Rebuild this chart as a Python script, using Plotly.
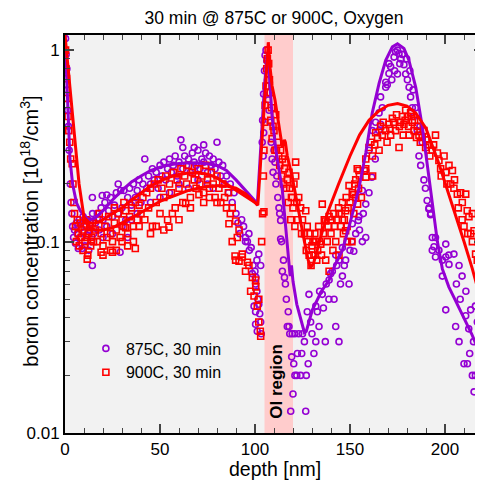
import plotly.graph_objects as go
import math

# ---------------- data ----------------
purple_points = [
    (0.3,1.15),(0.6,0.95),(1.0,0.8),(1.2,0.62),(1.4,0.485),(1.8,0.4),(2.2,0.3),(2.8,0.2),(3.2,0.16),(3.6,0.14),
    (4,0.12),(4.5,0.105),(5,0.115),(5.5,0.098),(6,0.125),(6.5,0.11),(7,0.092),(7.5,0.13),(8,0.105),(8.5,0.118),
    (9,0.092),(9.5,0.135),(10,0.112),(10.5,0.095),(11,0.12),(11.5,0.108),(12,0.13),(12.5,0.09),(13,0.115),(13.5,0.125),
    (14,0.1),(14.4,0.075),(14.5,0.14),(15,0.11),(14.4,0.17),
    (16,0.125),(17,0.14),(18,0.115),(19,0.15),(19.6,0.174),(20,0.13),(20,0.105),(21,0.16),(22,0.12),(22,0.175),
    (23,0.145),(24,0.17),(25,0.135),(25,0.11),(26,0.155),(27,0.18),(28,0.14),(28,0.2),(29,0.088),(29.3,0.185),
    (30,0.15),(30,0.12),(31,0.185),(32,0.13),(33,0.17),(33,0.105),(34,0.19),(35,0.155),(35,0.13),(36,0.2),
    (37,0.17),(38,0.185),(38,0.14),(39,0.21),(40,0.16),
    (41,0.2),(42,0.27),(43,0.19),(44,0.22),(45,0.2),(45,0.16),(46,0.24),(47,0.21),(48,0.23),(49,0.19),
    (50,0.25),(50,0.17),(51,0.22),(52,0.26),(53,0.21),(54,0.24),(55,0.27),(55,0.18),(56,0.23),(57,0.25),
    (58,0.28),(59,0.22),(60,0.26),(60,0.2),(61,0.34),(62,0.24),(62,0.31),(63,0.28),(64,0.25),(65,0.27),
    (65,0.19),(66,0.23),(67,0.29),(68,0.26),(68,0.31),(69,0.25),(70,0.3),(70,0.21),(71,0.24),(72,0.27),
    (73,0.26),(73,0.32),(74,0.29),(75,0.23),(75,0.2),(76,0.28),(77,0.25),(78,0.27),(78,0.19),(79,0.24),
    (80,0.33),(81,0.26),(82,0.22),(83,0.25),(84,0.2),(85,0.22),(86,0.18),(87,0.2),(88,0.16),(89,0.18),(90,0.14),
    (91,0.125),(92,0.11),(93,0.13),(94,0.12),(95,0.105),(95,0.1),(96,0.1),(96.8,0.11),(97,0.09),(98,0.093),
    (98.6,0.068),(99,0.075),(99.5,0.046),(100,0.07),(100.3,0.06),(100.3,0.043),(100.5,0.065),(101,0.055),(101,0.08),
    (101.2,0.034),(101.5,0.05),(102,0.047),(102,0.086),(102.5,0.042),(103,0.038),(103,0.075),(103.3,0.033),(100.3,0.037),
    (103.8,0.33),(104,0.43),(104.3,0.28),(104.5,0.59),(104.6,0.37),(105,0.78),(105.3,0.94),(105.8,1.0),(106.2,0.88),
    (106.6,0.7),(107,0.55),(107.4,0.485),
    (108,0.42),(108.5,0.33),(109,0.27),(109.5,0.23),(110,0.3),(110.5,0.26),(111,0.2),(111.5,0.22),(112,0.17),
    (112.6,0.15),(113,0.14),(113.5,0.129),(113.5,0.103),(114,0.1),(114.4,0.07),(115,0.08),(115.5,0.065),(116,0.06),
    (116.5,0.05),(117,0.036),(117.5,0.043),(117.9,0.036),(118.3,0.033),(118.8,0.013),(119.3,0.025),(119.6,0.033),
    (120,0.016),(120.4,0.023),(121,0.033),
    (121,0.02),(122,0.02),(122.3,0.026),(123,0.033),(124,0.02),(124.6,0.026),(125,0.033),(126,0.03),(126.7,0.013),
    (127,0.02),(127.5,0.043),(128,0.023),(128.4,0.053),(129.3,0.038),(130,0.033),(131,0.026),(132,0.03),(132,0.046),
    (132.8,0.043),(133.7,0.036),(134,0.055),(135.4,0.053),(136,0.045),(137,0.03),(137.5,0.06),(138.9,0.05),(139,0.063),
    (139.8,0.068),(140.7,0.07),(141.6,0.05),(142.5,0.036),(142.5,0.085),(143,0.075),(144.2,0.03),(144.2,0.08),(145,0.06),
    (146,0.066),(146,0.093),(147,0.075),(147.7,0.08),(148.6,0.1),(149.5,0.06),(150,0.09),(151,0.1),(151.2,0.124),
    (152,0.089),(153,0.11),(154.4,0.129),(154.7,0.135),(155,0.115),(156.5,0.1),(156.5,0.185),(157,0.14),(158.3,0.105),
    (158.3,0.157),(158.3,0.235),
    (160,0.18),(160,0.3),(161.5,0.217),(161.8,0.38),(163.3,0.27),(163.5,0.42),(165.3,0.38),(165.3,0.47),(166.1,0.41),
    (166.1,0.57),(167,0.5),(168.8,0.64),(168.8,0.68),(169.6,0.66),(170.5,0.755),(170.5,0.85),(171.4,0.82),(172,0.7),
    (173.2,0.92),(173.5,0.78),(174,0.98),(175,1.0),(175,0.75),(175.8,0.96),(176.2,0.85),(176.7,0.9),(177.5,0.95),
    (178.4,0.84),(179.3,0.75),(179.8,0.9),(180.2,0.7),(181.1,0.64),(181.5,0.78),(181.9,0.57),(182.8,0.5),(183.2,0.62),
    (183.7,0.45),(184.5,0.5),(185.4,0.38),(186.3,0.28),(186.8,0.4),(187.2,0.25),(188,0.33),(188.9,0.21),(189.7,0.19),
    (190.6,0.164),(191.5,0.148),(191.6,0.15),(192.4,0.138),(192.5,0.14),(193.3,0.105),(193.3,0.09),(194.2,0.094),
    (195,0.083),(195,0.105),(196.8,0.09),(198.6,0.08),(198.6,0.066),(200.4,0.083),
    (200.4,0.097),(200.4,0.044),(202,0.085),(202.1,0.076),(204.7,0.086),(205.6,0.036),(206,0.06),(207.4,0.075),
    (207.4,0.03),(208,0.05),(209,0.066),(210,0.023),(210.9,0.041),(211,0.055),(211.8,0.023),(212.5,0.035),(213,0.026),
    (213.5,0.044),(214.4,0.02),(215,0.03),(215.3,0.0164),(216,0.02),(216,0.046),(217,0.038),(218,0.028),(219,0.03),
    (219.5,0.022),
]

red_points = [
    (0.3,1.0),(0.5,0.8),(0.8,0.71),(1.2,0.56),(1.6,0.45),(2.0,0.38),(2.5,0.33),(3.0,0.27),(3.8,0.255),(4.2,0.2),
    (4.7,0.16),(5,0.14),
    (5.5,0.12),(6,0.1),(6.5,0.13),(7,0.11),(7.5,0.095),(8,0.125),(8.5,0.105),(9,0.115),(9.5,0.09),(10,0.12),
    (10.5,0.1),(11,0.13),(11.5,0.105),(11.7,0.081),(12,0.085),(12.5,0.11),(13,0.12),(13.5,0.095),(14,0.105),
    (14.5,0.125),(15,0.1),
    (16,0.115),(17,0.1),(18,0.13),(18,0.14),(19,0.11),(19,0.088),(20,0.095),(20,0.085),(21,0.12),(22,0.105),
    (23,0.135),(24,0.11),(24,0.09),(25,0.1),(25,0.088),(26,0.125),(26,0.15),(27,0.115),(27,0.09),(28,0.14),
    (29,0.105),(30,0.13),(30,0.1),(31,0.12),(31,0.16),(32,0.145),(32,0.118),(33,0.11),(33,0.095),(34,0.135),
    (35,0.15),(36,0.12),(36,0.1),(37,0.16),(37,0.092),(38,0.13),(39,0.155),(39,0.12),(40,0.14),
    (41,0.17),(42,0.13),(43,0.18),(44,0.15),(45,0.19),(45,0.11),(46,0.12),(47,0.2),(48,0.16),(48,0.12),
    (49,0.21),(50,0.14),(51,0.19),(52,0.17),(52,0.115),(53,0.22),(54,0.13),(54.7,0.119),(55,0.2),(56,0.18),
    (56.5,0.14),(57,0.23),(58,0.15),(59,0.21),(60,0.19),(60,0.13),(61,0.24),(62,0.16),(63,0.22),(63.5,0.158),
    (64,0.2),(65,0.25),(66,0.17),(66,0.15),(67,0.23),(68,0.21),(69,0.19),(70,0.24),(70.5,0.176),(71,0.2),
    (72,0.22),(73,0.18),(73,0.16),(74,0.25),(75,0.21),(76,0.19),(76,0.17),(77,0.23),(78,0.2),(79,0.17),
    (80,0.22),(80,0.16),(81,0.19),(82,0.16),(83,0.2),(84,0.17),(85,0.15),(86,0.18),(86.3,0.124),(87,0.14),
    (88,0.15),(88,0.1),
    (89.5,0.084),(89.8,0.128),(89.8,0.08),(90.7,0.105),(91.6,0.115),(91.6,0.079),(93.3,0.086),(93.3,0.083),
    (95,0.07),(96,0.078),(96.8,0.075),(97.7,0.055),(98.6,0.065),(99.5,0.052),(100.3,0.063),(100.4,0.058),
    (101.2,0.046),(102,0.05),(102,0.038),(102.8,0.034),(103,0.032),
    (103.5,0.1),(104,0.14),(104.4,0.22),(104.7,0.3),(104.7,0.143),(105,0.42),(105.3,0.515),(105.8,0.65),
    (106.2,0.8),(106.5,0.9),(106.9,1.0),(107.2,0.85),(107.6,0.7),(108,0.6),
    (108.3,0.43),(108.7,0.5),(109,0.345),(109.5,0.4),(110,0.38),(110.5,0.3),(110.9,0.46),(111.3,0.3),(112,0.33),
    (112.5,0.28),(113,0.25),(113.5,0.3),(114,0.22),(114.4,0.27),(115,0.2),(115.5,0.24),(116,0.26),(116.5,0.19),
    (117,0.21),(117.5,0.16),(117.9,0.23),(118.3,0.19),(118.8,0.13),(119.2,0.17),(119.6,0.17),(120,0.15),(120.5,0.2),
    (121,0.12),(121.4,0.26),(121.4,0.22),(122,0.16),(122.5,0.13),(123,0.17),(124,0.15),(124.5,0.11),(125,0.13),
    (126,0.11),(126.7,0.145),(127,0.09),(127.5,0.12),(128,0.1),(128.5,0.085),(129,0.11),(129.5,0.075),(130,0.095),
    (130.5,0.1),(131,0.085),(131.5,0.11),(132,0.1),(132.5,0.08),(133,0.09),(133.5,0.12),(134,0.1),(134.6,0.097),
    (135,0.085),(135.4,0.157),(136,0.11),(136.5,0.13),(137.2,0.128),(137.2,0.08),(138,0.1),(138.5,0.12),(139,0.135),
    (139,0.07),(140,0.11),(140.5,0.13),(141,0.09),(141.5,0.14),(142,0.12),(142.5,0.1),(143,0.13),(144,0.15),
    (144.2,0.085),(145,0.12),(145.5,0.14),(146,0.16),(146.5,0.11),(147,0.13),(147.7,0.145),(148,0.17),(148.5,0.12),
    (149,0.15),(149.5,0.196),(150,0.16),(151,0.1),(151.2,0.18),(152,0.14),(152.5,0.2),(153,0.17),(153.8,0.24),
    (154.5,0.19),(155,0.22),(156,0.17),
    (144.2,0.14),(146,0.13),(147.7,0.114),(148.6,0.1),(154,0.157),(152,0.176),(153,0.21),(154.7,0.235),
    (157.5,0.235),(158.3,0.27),(158.3,0.217),(158.3,0.24),(160,0.31),(161,0.33),(161.8,0.28),(161.9,0.22),
    (163.5,0.37),(165.3,0.3),(166.1,0.4),(167,0.36),(168.8,0.38),(170.5,0.41),(171.4,0.36),(172.3,0.44),(174,0.38),
    (175.8,0.31),(176.7,0.42),(177.6,0.45),(178.4,0.41),(179.3,0.485),(180.2,0.45),(181.1,0.36),(181.9,0.47),
    (182.8,0.42),(183.7,0.38),(185.4,0.4),(186.3,0.36),(188,0.35),(188.9,0.38),(189.8,0.31),(191.6,0.32),(193.3,0.3),
    (195,0.36),(196,0.29),(196.8,0.265),(197.7,0.24),(199.5,0.28),(200.4,0.23),(202.1,0.25),(203,0.2),(203.9,0.235),
    (204.7,0.19),(206.5,0.177),(208.2,0.18),(209.1,0.16),(210,0.12),(210.9,0.177),(211.7,0.145),(212.6,0.135),
    (213.5,0.11),(214.4,0.14),(214.4,0.1),(215.3,0.114),(216.1,0.086),(217,0.08),(218.8,0.07),(219.5,0.055),
    (217.5,0.1),(219,0.12),
    (163,0.32),(164.5,0.35),(167.5,0.42),(169.5,0.33),(171,0.39),(173,0.42),(174.5,0.46),(176,0.4),(178,0.36),
    (179,0.43),(180.8,0.4),(182.5,0.45),(184,0.43),(185,0.35),(187,0.33),(190,0.34),(192,0.28),(194,0.32),
    (198,0.22),(201,0.2),(205,0.21),(207,0.15),(209,0.13),(212,0.11),
]

purple_fit_depth = [0,1,2,2.6,4,6,8,10,12.6,16,20,25,30,35,40,45,50,55,60,65,70,75,80,85,90,95,100,101.2,
                    103,105,106.5,107.5,109,111,114.4,117,118.5,119.2,120,122,124,126,127,130.2,135,139,142,146,
                    150,154.7,158.3,161.7,165.3,168.8,172.3,175,178.4,181,184.6,188,190.6,193.3,196,198.6,
                    202,205.6,210,214,217,220]
purple_fit_conc = [1.2,0.7,0.4,0.27,0.2,0.16,0.145,0.137,0.13,0.133,0.145,0.165,0.185,0.205,0.22,0.235,0.245,
                   0.252,0.256,0.258,0.257,0.255,0.25,0.235,0.21,0.185,0.163,0.155,
                   0.3,0.65,0.97,0.75,0.45,0.3,0.185,0.09,0.066,0.075,0.062,0.047,0.04,0.0335,0.034,0.044,
                   0.055,0.063,0.075,0.09,0.125,0.19,0.29,0.47,0.67,0.886,1.04,1.08,1.02,0.886,0.64,0.4,
                   0.255,0.157,0.1,0.072,0.058,0.049,0.04,0.033,0.028,0.024]

red_fit_depth = [0,2,4.7,7.4,10,13,16,20,25,30,35,40,45,50,55,60,65,70,75,80,85,90,95,100,101.5,
                 104,106,107,108,109,110.5,111.7,113,114.4,115.5,116,117,119.6,122,124,126,128,129.3,131,
                 134,138,144,150,155,160,165,170,175,180,184.6,190,196.8,201,205.6,210,214.4,218,220]
red_fit_conc = [1.2,0.72,0.38,0.2,0.134,0.125,0.125,0.13,0.14,0.15,0.165,0.18,0.195,0.207,0.217,0.224,0.228,
                0.228,0.225,0.215,0.2,0.185,0.172,0.16,0.155,
                0.4,0.85,1.1,0.8,0.65,0.55,0.45,0.38,0.31,0.34,0.33,0.28,0.217,0.16,0.129,0.1,0.08,0.073,0.078,
                0.1,0.14,0.2,0.28,0.36,0.43,0.48,0.515,0.526,0.51,0.47,0.39,0.255,0.19,0.14,0.1,0.072,0.052,0.045]

red_fit2_depth = [10,13,16,20,25,30,35,40,45,50,55,60,65,70,75,80,85,90,95,100,101.5]
red_fit2_conc = [0.13,0.118,0.115,0.115,0.118,0.125,0.133,0.142,0.152,0.162,0.17,0.178,0.185,0.19,0.194,
                 0.196,0.195,0.19,0.178,0.16,0.155]

oi_region = (105, 120)
x_ticks = [0, 50, 100, 150, 200]
y_ticks = [0.01, 0.1, 1]
y_ticklabels = ["0.01", "0.1", "1"]

PURPLE = "#9400D3"
RED = "#FF0000"
FONT = "Liberation Sans, Arial, sans-serif"

fig = go.Figure()
fig.add_trace(go.Scatter(
    x=[p[0] for p in purple_points], y=[p[1] for p in purple_points], mode="markers",
    name="875C, 30 min",
    marker=dict(symbol="circle-open", size=6, color=PURPLE, line=dict(width=1.6, color=PURPLE))))
fig.add_trace(go.Scatter(
    x=[p[0] for p in red_points], y=[p[1] for p in red_points], mode="markers",
    name="900C, 30 min",
    marker=dict(symbol="square-open", size=6, color=RED, line=dict(width=1.6, color=RED))))
fig.add_trace(go.Scatter(x=purple_fit_depth, y=purple_fit_conc, mode="lines", showlegend=False,
                         line=dict(color=PURPLE, width=3)))
fig.add_trace(go.Scatter(x=red_fit2_depth, y=red_fit2_conc, mode="lines", showlegend=False,
                         line=dict(color=RED, width=3)))
fig.add_trace(go.Scatter(x=red_fit_depth, y=red_fit_conc, mode="lines", showlegend=False,
                         line=dict(color=RED, width=3)))

fig.add_shape(type="rect", xref="x", yref="paper", x0=oi_region[0], x1=oi_region[1], y0=0, y1=1,
              fillcolor="#FFCCCC", line=dict(width=0), layer="below")
fig.add_annotation(x=(oi_region[0] + oi_region[1]) / 2 - 1.2, y=-1.73, xref="x", yref="y",
                   text="<b>OI region</b>", textangle=-90, showarrow=False,
                   font=dict(size=17, color="black", family=FONT))
# axis titles
fig.add_annotation(x=0.502, y=-0.091, xref="paper", yref="paper", text="depth [nm]", showarrow=False,
                   xanchor="center", yanchor="middle", font=dict(size=19.5, color="black", family=FONT))
fig.add_annotation(x=-0.084, y=0.508, xref="paper", yref="paper",
                   text="boron concentration [10<sup>18</sup>/cm<sup>3</sup>]", textangle=-90,
                   showarrow=False, xanchor="center", yanchor="middle",
                   font=dict(size=20, color="black", family=FONT))

fig.update_layout(
    width=475, height=475,
    margin=dict(l=57, r=0, t=27, b=50),
    paper_bgcolor="white", plot_bgcolor="#F2F2F2",
    font=dict(family=FONT, size=17, color="black"),
    title=dict(text="30 min @ 875C or 900C, Oxygen", xref="paper", x=0.5, xanchor="center",
               yref="container", y=0.993, yanchor="top", pad=dict(t=0, b=0), font=dict(size=17.5)),
    showlegend=True,
    legend=dict(x=0.05, y=0.255, xanchor="left", yanchor="top", bgcolor="rgba(0,0,0,0)",
                font=dict(size=16), tracegroupgap=0, itemsizing="trace"),
    xaxis=dict(range=[0, 220], tickvals=x_ticks, ticks="inside", ticklen=9, tickwidth=1.5,
               showline=True, linecolor="black", linewidth=2, mirror="allticks", showgrid=False,
               zeroline=False, minor=dict(dtick=10, ticks="inside", ticklen=5, tickwidth=1.2),
               automargin=False, tickfont=dict(size=17)),
    yaxis=dict(type="log", range=[-2, math.log10(1.2)], tickvals=y_ticks, ticktext=y_ticklabels,
               ticks="inside", ticklen=9, tickwidth=1.5, showline=True, linecolor="black", linewidth=2,
               mirror="allticks", showgrid=False, zeroline=False, automargin=False,
               minor=dict(tickvals=[m * d for d in (0.01, 0.1) for m in range(2, 10)], ticks="inside",
                          ticklen=5, tickwidth=1.2),
               tickfont=dict(size=17)),
)

fig.write_html("out.html")
